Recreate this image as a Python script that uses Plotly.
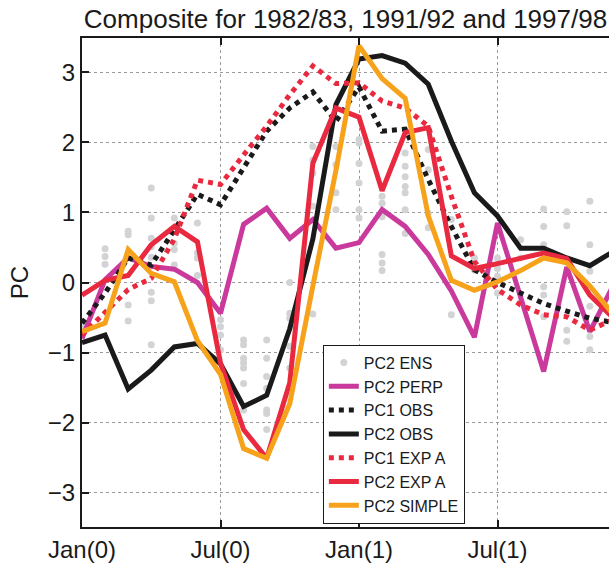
import plotly.graph_objects as go

# Months since Jan of year (0); 0..23 covers Jan(0) .. Dec(1)
months = list(range(24))

pc2_perp = [-0.80, 0.04, 0.35, 0.23, 0.19, 0.00, -0.44, 0.83, 1.06, 0.63, 0.90, 0.49,
            0.57, 1.04, 0.80, 0.40, -0.12, -0.78, 0.85, -0.21, -1.27, 0.22, -0.70, -0.05]
pc1_obs = [-0.58, -0.15, 0.35, 0.25, 0.75, 1.26, 1.11, 1.63, 2.16, 2.49, 2.72, 2.30,
           2.79, 2.16, 2.19, 1.47, 0.80, 0.18, 0.00, -0.15, -0.30, -0.41, -0.51, -0.57]
pc2_obs = [-0.86, -0.75, -1.52, -1.25, -0.92, -0.87, -1.16, -1.77, -1.61, -0.66, 0.62, 2.54,
           3.19, 3.24, 3.13, 2.83, 2.02, 1.28, 0.95, 0.49, 0.49, 0.35, 0.24, 0.44]
pc1_expa = [-0.75, -0.42, -0.10, 0.06, 0.62, 1.46, 1.40, 1.82, 2.23, 2.68, 3.09, 2.84,
            2.85, 2.59, 2.49, 2.23, 1.23, 0.30, -0.10, -0.32, -0.46, -0.49, -0.68, -0.53]
pc2_expa = [-0.18, 0.03, 0.10, 0.54, 0.80, 0.58, -1.15, -2.10, -2.51, -1.43, 1.70, 2.49,
            2.36, 1.31, 2.14, 2.21, 0.38, 0.20, 0.27, 0.34, 0.42, 0.34, -0.18, -0.50]
pc2_simple = [-0.70, -0.58, 0.47, 0.13, 0.01, -0.83, -1.31, -2.37, -2.51, -1.73, -0.05, 1.60,
              3.38, 2.91, 2.63, 0.95, 0.03, -0.11, 0.01, 0.17, 0.35, 0.28, -0.05, -0.45]

# Ensemble members of PC2, listed month by month
pc2_ens = [
    [-0.62, -0.70],
    [0.48, 0.37, 0.26],
    [0.73, 0.68, -0.32, -0.55],
    [1.35, 0.92, 0.63, 0.51, 0.36, -0.14, -0.26, -0.89],
    [0.92, 0.56, 0.47, 0.25],
    [0.85, 0.42, 0.35, 0.10],
    [-0.53, -0.63, -0.75, -0.96],
    [-0.82, -0.89, -1.08, -1.15, -1.22, -1.44, -1.82],
    [-0.82, -1.08, -1.34, -1.51, -1.82, -1.87, -2.10],
    [0.00, -0.44, -0.51, -0.91, -1.22],
    [1.94, 1.75, 1.56, 1.09, -0.45],
    [1.94, 1.68, 1.28, 1.04],
    [2.04, 1.99, 1.70, 1.42, 1.04, 0.92],
    [1.23, 1.13, 0.94, 0.40, 0.28, 0.17],
    [1.85, 1.66, 1.51, 1.37, 1.28, 1.04, 0.70],
    [1.90, 1.61, 0.99, 0.78],
    [0.90, -0.46],
    [0.35, 0.18],
    [0.35, 0.20, 0.09, -0.15],
    [0.61, 0.35],
    [1.05, 0.80, 0.54, -0.06, -0.18, -0.49],
    [1.01, 0.81, 0.30, -0.68, -0.84],
    [1.16, 0.54, 0.16, -0.34, -0.77, -0.96],
    [0.30, -0.60],
]

tick_months = [0, 6, 12, 18]
tick_labels = ["Jan(0)", "Jul(0)", "Jan(1)", "Jul(1)"]

MAGENTA = "#c93a9c"
BLACK = "#1a1a1a"
RED = "#e8293f"
ORANGE = "#f7a21b"
GRAY = "#d2d3d5"
LW = 5

ens_x = [m for m, vals in zip(months, pc2_ens) for _ in vals]
ens_y = [v for vals in pc2_ens for v in vals]

fig = go.Figure()
fig.add_trace(go.Scatter(x=ens_x, y=ens_y, mode="markers", name="PC2 ENS",
                         marker=dict(color=GRAY, size=7)))
fig.add_trace(go.Scatter(x=months, y=pc2_perp, mode="lines", name="PC2 PERP",
                         line=dict(color=MAGENTA, width=LW)))
fig.add_trace(go.Scatter(x=months, y=pc1_obs, mode="lines", name="PC1 OBS",
                         line=dict(color=BLACK, width=LW, dash="dot")))
fig.add_trace(go.Scatter(x=months, y=pc2_obs, mode="lines", name="PC2 OBS",
                         line=dict(color=BLACK, width=LW)))
fig.add_trace(go.Scatter(x=months, y=pc1_expa, mode="lines", name="PC1 EXP A",
                         line=dict(color=RED, width=LW, dash="dot")))
fig.add_trace(go.Scatter(x=months, y=pc2_expa, mode="lines", name="PC2 EXP A",
                         line=dict(color=RED, width=LW)))
fig.add_trace(go.Scatter(x=months, y=pc2_simple, mode="lines", name="PC2 SIMPLE",
                         line=dict(color=ORANGE, width=LW)))

FONT = "Liberation Sans, Arial, Helvetica, sans-serif"

fig.update_layout(
    width=610, height=563,
    margin=dict(l=82, r=1, t=38, b=36),
    paper_bgcolor="white", plot_bgcolor="white",
    font=dict(family=FONT, size=24, color="#1a1a1a"),
    title=dict(text="Composite for 1982/83, 1991/92 and 1997/98",
               font=dict(size=26, family=FONT, color="#1a1a1a"),
               x=0.5, xref="paper", xanchor="center",
               y=1 - 19 / 563, yref="container", yanchor="middle"),
    showlegend=True,
    legend=dict(x=0.457, y=0.373, xanchor="left", yanchor="top",
                bgcolor="white", bordercolor="#1a1a1a", borderwidth=1,
                font=dict(size=16, family=FONT, color="#1a1a1a"),
                itemwidth=30, tracegroupgap=0),
)

fig.update_xaxes(
    range=[0, 22.83], tickmode="array", tickvals=tick_months, ticktext=tick_labels,
    showline=True, linecolor="#1a1a1a", linewidth=2, mirror="ticks",
    ticks="inside", ticklen=7, tickwidth=1.5, tickcolor="#1a1a1a",
    showgrid=True, gridcolor="#9a9a9a", gridwidth=1, griddash="dot",
    zeroline=False, tickfont=dict(size=24),
)
fig.update_yaxes(
    range=[-3.49, 3.49], tickmode="array", tickvals=[-3, -2, -1, 0, 1, 2, 3],
    showline=True, linecolor="#1a1a1a", linewidth=2,
    ticks="inside", ticklen=7, tickwidth=1.5, tickcolor="#1a1a1a",
    showgrid=True, gridcolor="#9a9a9a", gridwidth=1, griddash="dot",
    zeroline=False, tickfont=dict(size=24),
    title=dict(text="PC", font=dict(size=24), standoff=12),
)

fig.write_html("out.html")
